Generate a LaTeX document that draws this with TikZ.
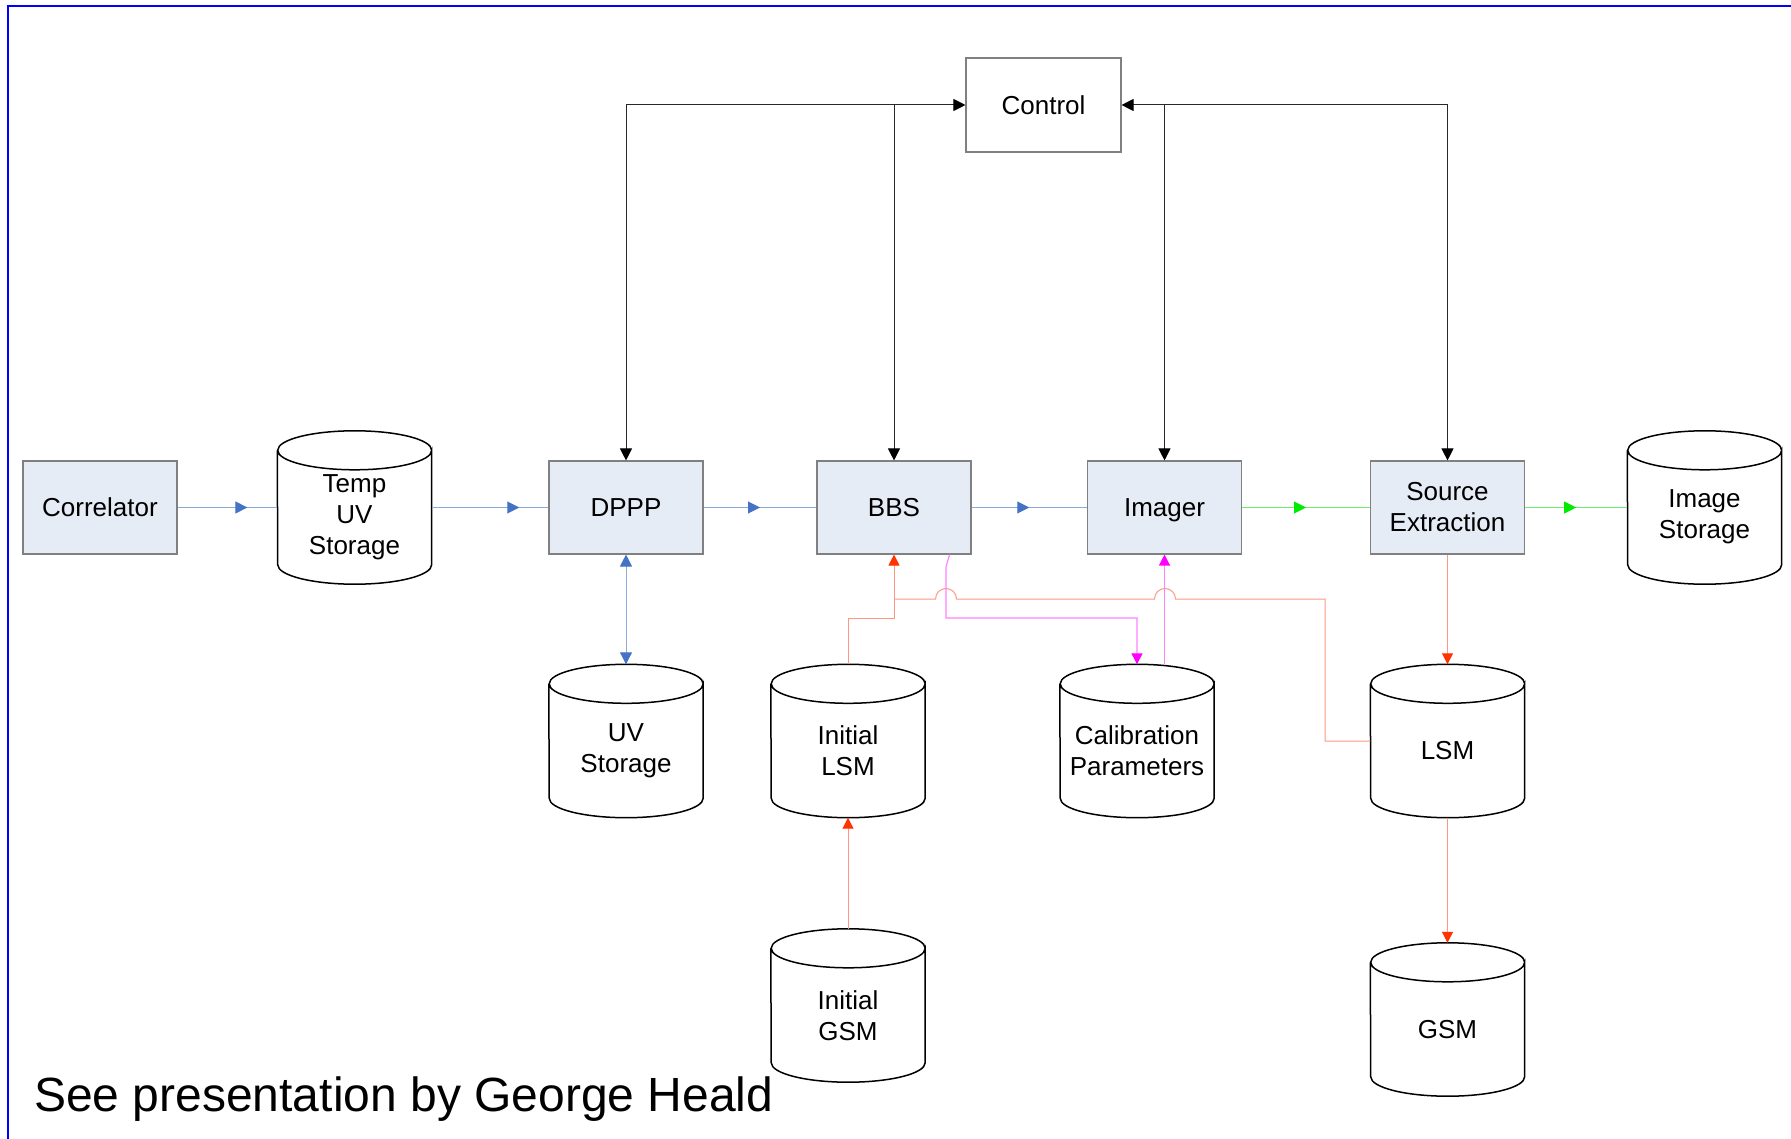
\documentclass[tikz,border=0pt]{standalone}
\usepackage{fontspec}
\setmainfont{Liberation Sans}
\usetikzlibrary{arrows.meta,decorations.markings,calc}
\definecolor{boxfill}{RGB}{230,236,246}
\definecolor{boxdraw}{RGB}{128,128,128}
\definecolor{blueln}{RGB}{140,170,220}
\definecolor{bluear}{RGB}{68,114,196}
\definecolor{greenln}{RGB}{110,240,110}
\definecolor{greenar}{RGB}{0,235,0}
\definecolor{redln}{RGB}{255,150,130}
\definecolor{redar}{RGB}{255,51,0}
\definecolor{magln}{RGB}{255,130,255}
\definecolor{magar}{RGB}{255,0,255}
\definecolor{blkln}{RGB}{40,40,40}
\definecolor{frameblue}{RGB}{0,0,255}
\newcommand\nfont{\fontsize{26}{31}\selectfont}
\newcommand\cylshape[1]{\draw[cylline] ([yshift=-19.5pt]#1.north east) arc[start angle=0,end angle=180,x radius=77pt,y radius=19.5pt] arc[start angle=180,end angle=360,x radius=77pt,y radius=19.5pt] -- ([yshift=19.5pt]#1.south east) arc[start angle=0,end angle=-180,x radius=77pt,y radius=19.5pt] -- ([yshift=-19.5pt]#1.north west);}
\tikzset{
  proc/.style={rectangle, draw=boxdraw, fill=boxfill, line width=1.1pt, minimum width=154pt, minimum height=93pt, inner sep=0pt, align=center, font=\nfont},
  oneline/.style={text height=18.6pt, text depth=0pt},
  ctrl/.style={proc, fill=white, minimum width=155pt, minimum height=94pt},
  cyl/.style={rectangle, minimum width=154pt, minimum height=153pt, inner sep=0pt},
  ctext/.style={align=center, yshift=-9.75pt, font=\nfont, inner sep=0pt},
  cylline/.style={draw=black, line width=1.5pt},
  btip/.tip={Triangle[length=12pt,width=12pt,color=bluear]},
  gtip/.tip={Triangle[length=12pt,width=12pt,color=greenar]},
  ktip/.tip={Triangle[length=12pt,width=12pt,color=black]},
  rtip/.tip={Triangle[length=11pt,width=11pt,color=redar]},
  mtip/.tip={Triangle[length=11pt,width=11pt,color=magar]},
  bline/.style={draw=blueln, line width=1pt},
  gline/.style={draw=greenln, line width=1pt},
  kline/.style={draw=blkln, line width=1pt},
  rline/.style={draw=redln, line width=1pt},
  mline/.style={draw=magln, line width=1.2pt},
  midarr/.style 2 args={postaction={decorate}, decoration={markings, mark=at position #1 with {\arrow{#2}}}}
}
\begin{document}
\begin{tikzpicture}[x=1pt,y=-1pt]
\useasboundingbox (0,0) rectangle (1791,1139);
\draw[frameblue, line width=2.5pt] (8,1150) -- (8,6) -- (1800,6);

% nodes
\node[proc, oneline] (corr) at (100,507.5) {Correlator};
\node[cyl, label={[ctext]center:Temp\\UV\\Storage}] (tuv) at (354.5,507.5) {};
\node[proc, oneline] (dppp) at (626,507.5) {DPPP};
\node[proc, oneline] (bbs) at (894,507.5) {BBS};
\node[proc, oneline] (imager) at (1164.5,507.5) {Imager};
\node[proc] (se) at (1447.5,507.5) {Source\\Extraction};
\node[cyl, label={[ctext]center:Image\\Storage}] (imgst) at (1704.5,507.5) {};
\node[ctrl, oneline] (control) at (1043.5,105) {Control};
\node[cyl, label={[ctext]center:UV\\Storage}] (uvst) at (626,741) {};
\node[cyl, label={[ctext]center:Initial\\LSM}] (ilsm) at (848,741) {};
\node[cyl, label={[ctext]center:Calibration\\Parameters}] (cal) at (1137,741) {};
\node[cyl, label={[ctext]center:LSM}] (lsm) at (1447.5,741) {};
\node[cyl, label={[ctext]center:Initial\\GSM}] (igsm) at (848,1005.5) {};
\node[cyl, label={[ctext]center:GSM}] (gsm) at (1447.5,1019.5) {};
\foreach \c in {tuv,imgst,uvst,ilsm,cal,lsm,igsm,gsm} {\cylshape{\c}}

% main flow
\draw[bline, midarr={0.7}{btip}] (corr.east) -- (tuv.west);
\draw[bline, midarr={0.75}{btip}] (tuv.east) -- (dppp.west);
\draw[bline, midarr={0.5}{btip}] (dppp.east) -- (bbs.west);
\draw[bline, midarr={0.5}{btip}] (bbs.east) -- (imager.west);
\draw[gline, midarr={0.5}{gtip}] (imager.east) -- (se.west);
\draw[gline, midarr={0.5}{gtip}] (se.east) -- (imgst.west);
\draw[bline, {btip}-{btip}] (dppp.south) -- (uvst.north);

% control
\draw[kline, {ktip}-{ktip}] (dppp.north) |- (control.west);
\draw[kline, -{ktip}] (control.west -| bbs.north) -- (bbs.north);
\draw[kline, {ktip}-{ktip}] (se.north) |- (control.east);
\draw[kline, -{ktip}] (control.east -| imager.north) -- (imager.north);

% red
\coordinate (rj) at (894,618);
\coordinate (rj2) at (894,599);
\coordinate (rc) at (1325,599);
\draw[rline, -{rtip}] (ilsm.north) |- (rj) -- (bbs.south);
\draw[rline] (lsm.west) -| (rc) -- (1175.5,599) arc[start angle=0,end angle=180,radius=10.5pt] -- (956.5,599) arc[start angle=0,end angle=180,radius=10.5pt] -- (rj2);
\draw[rline, -{rtip}] (se.south) -- (lsm.north);
\draw[rline, -{rtip}] (lsm.south) -- (gsm.north);
\draw[rline, -{rtip}] (igsm.north) -- (ilsm.south);

% magenta
\coordinate (m1) at (946,567);
\coordinate (m2) at (946,618);
\draw[mline, -{mtip}] ([xshift=-22pt]bbs.south east) -- (m1) -- (m2) -| (cal.north);
\draw[mline, -{mtip}] (cal.north -| imager.south) -- (imager.south);

\node[anchor=base west, inner sep=0pt, font=\fontsize{48}{56}\selectfont] (footer) at (34,1111) {See presentation by George Heald};
\end{tikzpicture}
\end{document}
